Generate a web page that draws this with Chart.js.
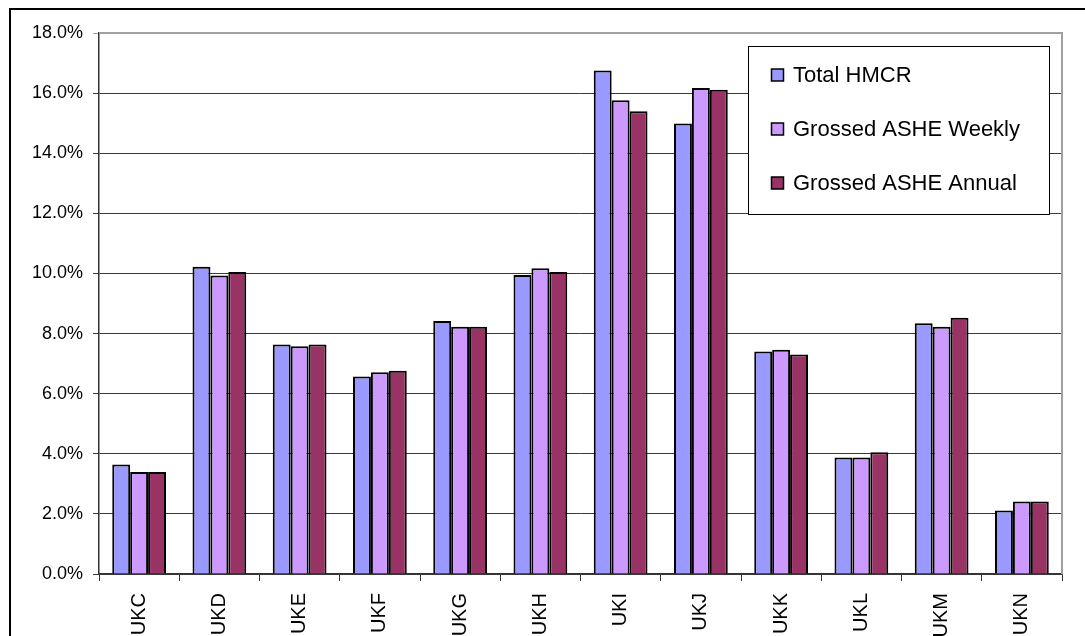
<!DOCTYPE html>
<html>
<head>
<meta charset="utf-8">
<script src="https://cdn.jsdelivr.net/npm/chart.js@4/dist/chart.umd.min.js"></script>
<style>
  html, body { margin: 0; padding: 0; background: #fff; overflow: hidden; }
  #wrap { position: relative; width: 1085px; height: 636px; }
  #frame {
    position: absolute; left: 9px; top: 8px; width: 1200px; height: 700px;
    border-left: 2px solid #000; border-top: 2px solid #000; box-sizing: border-box;
  }
  canvas { position: absolute; left: 0; top: 0; }
</style>
</head>
<body>
<div id="wrap">
  <div id="frame"></div>
  <canvas id="chart" width="1085" height="636"></canvas>
</div>
<script>
const regions = ["UKC", "UKD", "UKE", "UKF", "UKG", "UKH", "UKI", "UKJ", "UKK", "UKL", "UKM", "UKN"];
const totalHmcr = [3.64, 10.22, 7.64, 6.57, 8.42, 9.95, 16.75, 14.99, 7.40, 3.88, 8.34, 2.11];
const asheWeekly = [3.39, 9.93, 7.58, 6.71, 8.23, 10.17, 15.76, 16.17, 7.46, 3.88, 8.23, 2.41];
const asheAnnual = [3.39, 10.05, 7.64, 6.76, 8.23, 10.05, 15.40, 16.11, 7.30, 4.05, 8.53, 2.41];

const FONT = "'Liberation Sans', Arial, sans-serif";

// legend box drawn inside the plot area, plus the grey plot border
const boxLegend = {
  id: "boxLegend",
  afterDraw(chart) {
    const { ctx, chartArea } = chart;
    ctx.save();
    // plot area border (top + right, grey)
    ctx.strokeStyle = "#a0a0a0";
    ctx.lineWidth = 2;
    ctx.beginPath();
    ctx.moveTo(chartArea.left, chartArea.top);
    ctx.lineTo(chartArea.right, chartArea.top);
    ctx.lineTo(chartArea.right, chartArea.bottom);
    ctx.stroke();

    const x = chartArea.right - 314, y = chartArea.top + 13;
    const w = 301, h = 168;
    ctx.fillStyle = "#fff";
    ctx.fillRect(x, y, w, h);
    ctx.strokeStyle = "#000";
    ctx.lineWidth = 1;
    ctx.strokeRect(x + 0.5, y + 0.5, w, h);

    ctx.font = "22px " + FONT;
    ctx.textBaseline = "alphabetic";
    chart.data.datasets.forEach((ds, i) => {
      const base = y + 36 + i * 54;
      ctx.fillStyle = ds.backgroundColor;
      ctx.fillRect(x + 23.5, base - 13, 12, 12);
      ctx.strokeStyle = "#000";
      ctx.lineWidth = 1.5;
      ctx.strokeRect(x + 23.5, base - 13, 12, 12);
      ctx.fillStyle = "#000";
      ctx.fillText(ds.label, x + 45, base);
    });
    ctx.restore();
  }
};

new Chart(document.getElementById("chart"), {
  type: "bar",
  data: {
    labels: regions,
    datasets: [
      { label: "Total HMCR", data: totalHmcr, backgroundColor: "#9999FF" },
      { label: "Grossed ASHE Weekly", data: asheWeekly, backgroundColor: "#CC99FF" },
      { label: "Grossed ASHE Annual", data: asheAnnual, backgroundColor: "#993366" }
    ].map(d => Object.assign(d, {
      borderColor: "#000",
      borderWidth: 2,
      categoryPercentage: 0.67,
      barPercentage: 1
    }))
  },
  options: {
    responsive: false,
    animation: false,
    devicePixelRatio: 1,
    layout: { padding: { top: 33, right: 23, left: 0, bottom: 0 } },
    plugins: {
      legend: { display: false },
      tooltip: { enabled: false }
    },
    scales: {
      x: {
        grid: {
          offset: true,
          drawOnChartArea: false,
          drawTicks: true,
          tickLength: 7,
          color: "#333"
        },
        border: { color: "#333", width: 1.5 },
        ticks: {
          minRotation: 90,
          maxRotation: 90,
          padding: 12,
          color: "#000",
          font: { family: FONT, size: 20 }
        },
        afterFit(scale) { scale.height = 62; }
      },
      y: {
        min: 0,
        max: 18,
        grid: {
          color: c => (c.tick && c.tick.value === 18 ? "#a0a0a0" : "#3a3a3a"),
          lineWidth: 1,
          tickLength: 6
        },
        border: { color: "#333", width: 1.5 },
        ticks: {
          stepSize: 2,
          padding: 10,
          color: "#000",
          font: { family: FONT, size: 18 },
          callback: v => v.toFixed(1) + "%"
        },
        afterFit(scale) { scale.width = 99; }
      }
    }
  },
  plugins: [boxLegend]
});
</script>
</body>
</html>
